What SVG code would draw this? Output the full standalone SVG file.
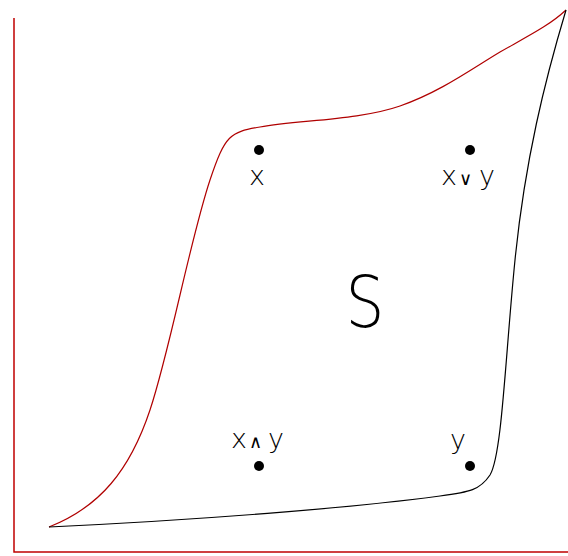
<svg xmlns="http://www.w3.org/2000/svg" width="568" height="556" viewBox="0 0 568 556">
<style>
.lbl{font-family:"DejaVu Sans","Liberation Sans",sans-serif;font-weight:200;fill:#000;text-anchor:middle}
.dot{fill:#000}
</style>
<rect width="568" height="556" fill="#fff"/>
<g id="axes" fill="none" stroke="#c00000" stroke-width="1.5">
<path d="M14,18 V552 H568"/>
</g>
<g id="connectors" fill="none" stroke-width="1.2">
<path id="upper" stroke="#b00000" d="M49,527 C100,507 130,470 150,410 C170,350 190,240 210,180 C225,135 230,132 260,127 C300,120 360,120 400,106 C440,92 470,70 500,52 C530,35 550,25 566,10"/>
<path id="lower" stroke="#000" d="M566,10 C545,80 525,160 515,260 C505,360 502,455 490,475 C480,490 470,492 440,496 C350,508 200,520 49,527"/>
</g>
<g id="node-x">
<circle class="dot" cx="259" cy="150" r="5"/>
<text class="lbl" x="257" y="185" font-size="27">x</text>
</g>
<g id="node-xory">
<circle class="dot" cx="470" cy="150" r="5"/>
<text class="lbl" font-size="27" y="185"><tspan x="449">x</tspan><tspan x="465" font-size="18">∨</tspan><tspan x="487">y</tspan></text>
</g>
<g id="node-S">
<text class="lbl" font-size="72" transform="translate(365,327) scale(0.85,1)" x="0" y="0">S</text>
</g>
<g id="node-xandy">
<circle class="dot" cx="259" cy="466" r="5"/>
<text class="lbl" font-size="27" y="448"><tspan x="239">x</tspan><tspan x="255" font-size="18">∧</tspan><tspan x="276">y</tspan></text>
</g>
<g id="node-y">
<circle class="dot" cx="470" cy="466" r="5"/>
<text class="lbl" x="458" y="449" font-size="27">y</text>
</g>
</svg>
